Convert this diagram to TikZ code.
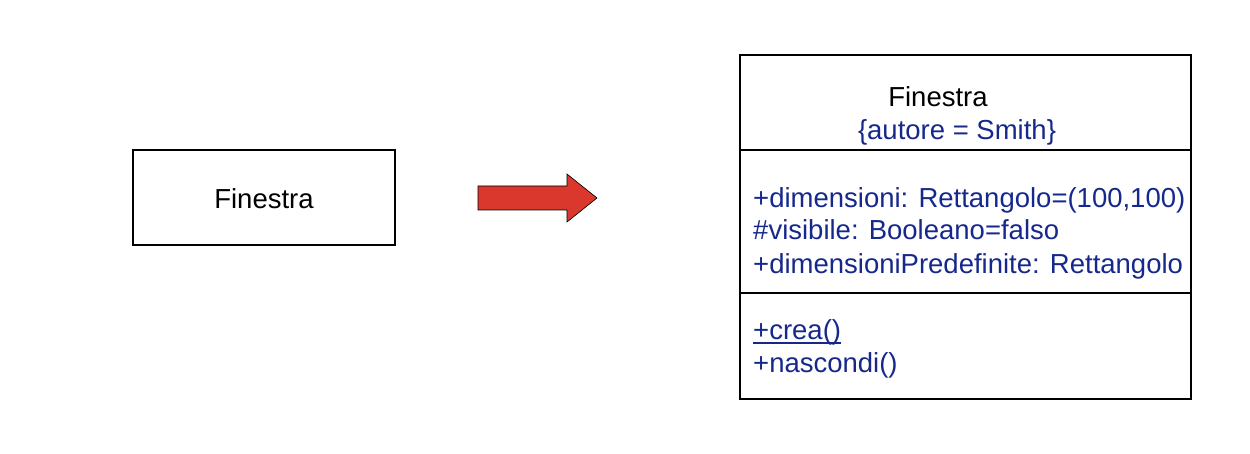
\documentclass[tikz,border=0pt]{standalone}
\usepackage{fontspec}
\usetikzlibrary{calc}
\setmainfont{Liberation Sans}
\definecolor{umlblue}{RGB}{22,40,140}
\definecolor{arrowred}{RGB}{218,55,45}
\tikzset{
  lbl/.style={inner sep=0pt, font=\fontsize{27.5}{33}\selectfont},
  bluelbl/.style={lbl, text=umlblue, anchor=base west},
  boxline/.style={draw=black, line width=1.3pt}
}
\begin{document}
\begin{tikzpicture}[x=1pt,y=-1pt]
\useasboundingbox (0,0) rectangle (1250,454);
% left class
\draw[boxline] (133,150) rectangle (395,245);
\node[lbl, anchor=base] (leftname) at (264,209) {Finestra};
% arrow
\draw[fill=arrowred, draw=black, line width=0.6pt]
  (478,186) -- (567,186) -- (567,174) -- (597,198) -- (567,222) -- (567,210) -- (478,210) -- cycle;
% right class
\draw[boxline] (740,55) rectangle (1191,399);
\draw[boxline] (740,150) -- (1191,150);
\draw[boxline] (740,293) -- (1191,293);
\node[lbl, anchor=base] (rname) at (938,107) {Finestra};
\node[lbl, text=umlblue, anchor=base] (tag) at (957,140) {\{autore = Smith\}};
\node[bluelbl] (a1) at (753,208) {+dimensioni: Rettangolo=(100,100)};
\node[bluelbl] (a2) at (753,240) {\#visibile: Booleano=falso};
\node[bluelbl] (a3) at (753,274) {+dimensioniPredefinite: Rettangolo};
\node[bluelbl] (m1) at (753,339) {+crea()};
\draw[umlblue, line width=1.2pt] ($(m1.base west)+(0,4)$) -- ($(m1.base east)+(0,4)$);
\node[bluelbl] (m2) at (753,372) {+nascondi()};
\end{tikzpicture}
\end{document}
